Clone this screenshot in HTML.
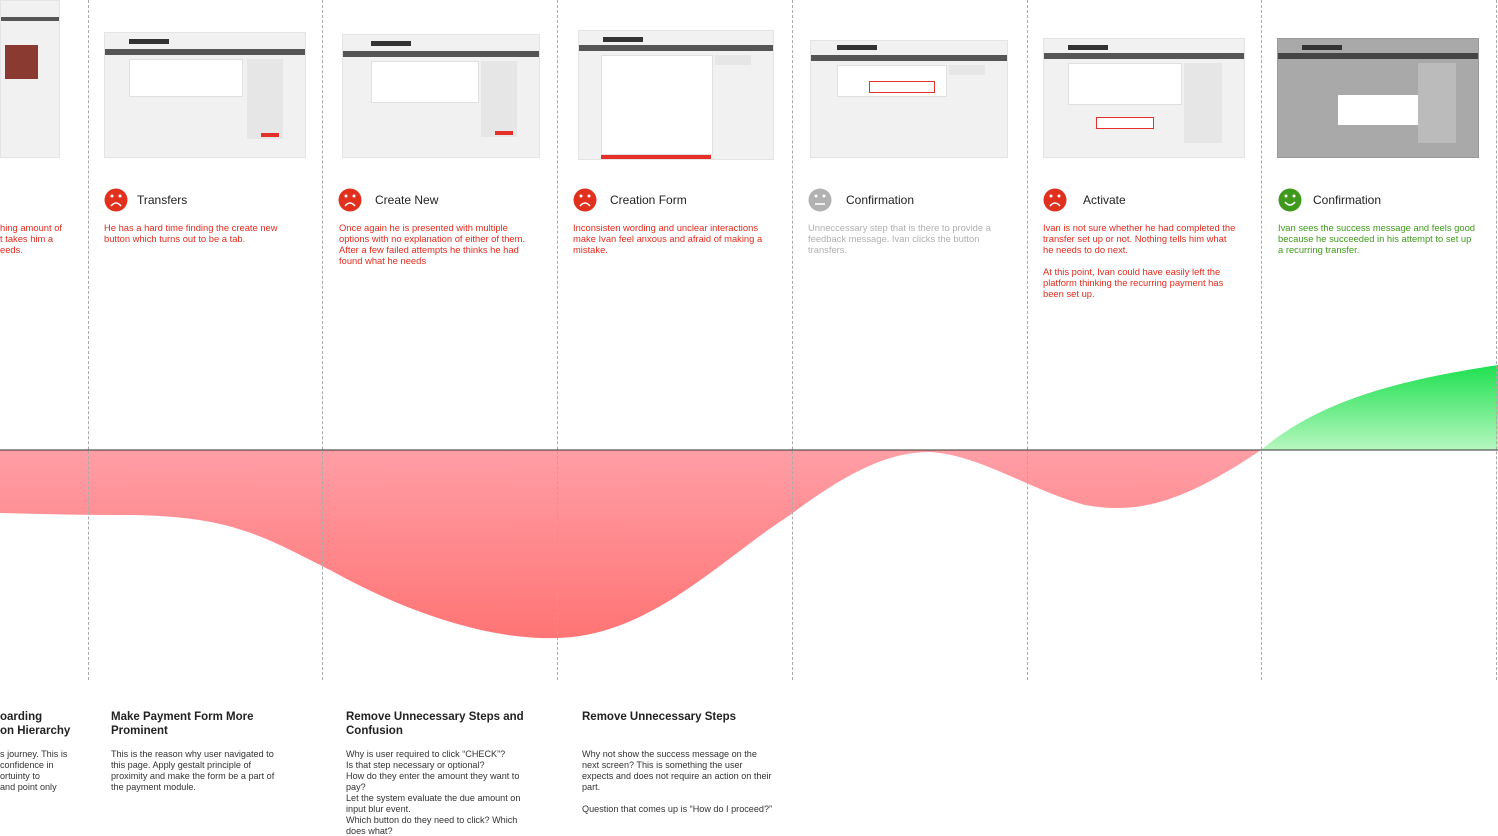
<!DOCTYPE html>
<html><head><meta charset="utf-8"><style>
html,body{margin:0;padding:0;background:#fff;width:1498px;height:836px;overflow:hidden;position:relative;font-family:"Liberation Sans",sans-serif}
.a{position:absolute}
.th{position:absolute;background:#f1f1f1;border:1px solid #e4e4e4;box-sizing:border-box;overflow:hidden}
.th .bar{position:absolute;left:0;right:0;height:6px;background:#555}
.th .logo{position:absolute;width:40px;height:5px;background:#333}
.th .pn{position:absolute;background:#fff;border:1px solid #e0e0e0}
.th .side{position:absolute;background:#e6e6e6}
.th .btn{position:absolute;width:18px;height:4px;background:#e5302a}
.ttl{position:absolute;font-size:12px;color:#222;top:193px}
.ds{position:absolute;font-size:9.4px;line-height:11px;top:222px;white-space:nowrap}
.r{color:#e02b1e}
.h{position:absolute;top:710px;font-size:11.5px;font-weight:bold;color:#222;line-height:14px}
.b{position:absolute;top:749px;font-size:9.1px;line-height:11px;color:#333;white-space:nowrap}
.dv{position:absolute;top:0;height:680px;border-left:1px dashed #aaa}
</style></head><body>
<svg class="a" style="left:0;top:0" width="1498" height="836">
<defs>
<linearGradient id="rg" x1="0" y1="450" x2="0" y2="640" gradientUnits="userSpaceOnUse"><stop offset="0" stop-color="#ff9ea6"/><stop offset="1" stop-color="#ff7474"/></linearGradient>
<linearGradient id="gg" x1="0" y1="450" x2="0" y2="365" gradientUnits="userSpaceOnUse"><stop offset="0" stop-color="#b6f7bf"/><stop offset="1" stop-color="#1ee050"/></linearGradient>
</defs>
<path d="M0,450 L0,513 C40,514 80,515 120,515 C230,515 260,535 330,570 C420,620 500,640 557,638 C650,636 720,560 790,515 C850,470 890,452 930,452 C980,455 1030,490 1085,505 C1135,514 1180,505 1261,450 Z" fill="url(#rg)"/>
<path d="M1261,450 C1320,400 1400,380 1498,365 L1498,450 Z" fill="url(#gg)"/>
<line x1="0" y1="450" x2="1498" y2="450" stroke="#333" stroke-width="1"/>
</svg>
<div class="dv" style="left:88px"></div><div class="dv" style="left:322px"></div><div class="dv" style="left:557px"></div><div class="dv" style="left:792px"></div><div class="dv" style="left:1027px"></div><div class="dv" style="left:1261px"></div><div class="dv" style="left:1496px"></div>

<div class="th" style="left:0;top:0;width:60px;height:158px"><div class="bar" style="top:16px;height:4px"></div><div class="a" style="left:4px;top:44px;width:33px;height:34px;background:#8a3a30"></div></div>
<div class="th" style="left:104px;top:32px;width:202px;height:126px"><div class="logo" style="left:24px;top:6px"></div><div class="bar" style="top:16px"></div><div class="pn" style="left:24px;top:26px;width:112px;height:36px"></div><div class="side" style="left:142px;top:26px;width:36px;height:80px"></div><div class="btn" style="left:156px;top:100px"></div></div>
<div class="th" style="left:342px;top:34px;width:198px;height:124px"><div class="logo" style="left:28px;top:6px"></div><div class="bar" style="top:16px"></div><div class="pn" style="left:28px;top:26px;width:106px;height:40px"></div><div class="side" style="left:138px;top:26px;width:36px;height:76px"></div><div class="btn" style="left:152px;top:96px"></div></div>
<div class="th" style="left:578px;top:30px;width:196px;height:130px"><div class="logo" style="left:24px;top:6px"></div><div class="bar" style="top:14px"></div><div class="pn" style="left:22px;top:24px;width:110px;height:98px"></div><div class="side" style="left:136px;top:24px;width:36px;height:10px"></div><div class="a" style="left:22px;top:124px;width:110px;height:4px;background:#e5302a"></div></div>
<div class="th" style="left:810px;top:40px;width:198px;height:118px"><div class="logo" style="left:26px;top:4px"></div><div class="bar" style="top:14px"></div><div class="pn" style="left:26px;top:24px;width:108px;height:30px"></div><div class="a" style="left:58px;top:40px;width:64px;height:10px;border:1px solid #e5302a;background:#fff"></div><div class="side" style="left:138px;top:24px;width:36px;height:10px"></div></div>
<div class="th" style="left:1043px;top:38px;width:202px;height:120px"><div class="logo" style="left:24px;top:6px"></div><div class="bar" style="top:14px"></div><div class="pn" style="left:24px;top:24px;width:112px;height:40px"></div><div class="a" style="left:52px;top:78px;width:56px;height:10px;border:1px solid #e5302a;background:#fff"></div><div class="side" style="left:140px;top:24px;width:38px;height:80px"></div></div>
<div class="th" style="left:1277px;top:38px;width:202px;height:120px;background:#a9a9a9;border-color:#999"><div class="logo" style="left:24px;top:6px"></div><div class="bar" style="top:14px;background:#444"></div><div class="a" style="left:60px;top:56px;width:82px;height:30px;background:#fff"></div><div class="side" style="left:140px;top:24px;width:38px;height:80px;background:#bbb"></div></div>

<svg class="a" style="left:0;top:0" width="1498" height="240">
<g fill="#e0301e"><circle cx="116" cy="200" r="11.5"/><circle cx="350" cy="200" r="11.5"/><circle cx="585" cy="200" r="11.5"/><circle cx="1055" cy="200" r="11.5"/></g>
<circle cx="820" cy="200" r="11.5" fill="#b2b2b2"/><circle cx="1290" cy="200" r="11.5" fill="#3f9a1c"/>
<g fill="#fff"><circle cx="112" cy="196" r="1.5"/><circle cx="120" cy="196" r="1.5"/><circle cx="346" cy="196" r="1.5"/><circle cx="354" cy="196" r="1.5"/><circle cx="581" cy="196" r="1.5"/><circle cx="589" cy="196" r="1.5"/><circle cx="1051" cy="196" r="1.5"/><circle cx="1059" cy="196" r="1.5"/><circle cx="816" cy="196" r="1.5"/><circle cx="824" cy="196" r="1.5"/><circle cx="1286" cy="196" r="1.5"/><circle cx="1294" cy="196" r="1.5"/></g>
<g stroke="#fff" stroke-width="1.6" fill="none"><path d="M111,206 Q116,200 121,206"/><path d="M345,206 Q350,200 355,206"/><path d="M580,206 Q585,200 590,206"/><path d="M1050,206 Q1055,200 1060,206"/><path d="M815,204 L825,204"/><path d="M1285,202 Q1290,208 1295,202"/></g>
</svg>
<div class="ttl" style="left:137px">Transfers</div>
<div class="ttl" style="left:375px">Create New</div>
<div class="ttl" style="left:610px">Creation Form</div>
<div class="ttl" style="left:846px">Confirmation</div>
<div class="ttl" style="left:1083px">Activate</div>
<div class="ttl" style="left:1313px">Confirmation</div>

<div class="ds r" style="left:0">hing amount of<br>t takes him a<br>eeds.</div>
<div class="ds r" style="left:104px">He has a hard time finding the create new<br>button which turns out to be a tab.</div>
<div class="ds r" style="left:339px">Once again he is presented with multiple<br>options with no explanation of either of them.<br>After a few failed attempts he thinks he had<br>found what he needs</div>
<div class="ds r" style="left:573px">Inconsisten wording and unclear interactions<br>make Ivan feel anxous and afraid of making a<br>mistake.</div>
<div class="ds" style="left:808px;color:#b0b0b0">Unneccessary step that is there to provide a<br>feedback message. Ivan clicks the button<br>transfers.</div>
<div class="ds r" style="left:1043px">Ivan is not sure whether he had completed the<br>transfer set up or not. Nothing tells him what<br>he needs to do next.<br><br>At this point, Ivan could have easily left the<br>platform thinking the recurring payment has<br>been set up.</div>
<div class="ds" style="left:1278px;color:#3f9a1c">Ivan sees the success message and feels good<br>because he succeeded in his attempt to set up<br>a recurring transfer.</div>

<div class="h" style="left:0">oarding<br>on Hierarchy</div>
<div class="b" style="left:0">s journey. This is<br>confidence in<br>ortuinty to<br>and point only</div>
<div class="h" style="left:111px">Make Payment Form More<br>Prominent</div>
<div class="b" style="left:111px">This is the reason why user navigated to<br>this page. Apply gestalt principle of<br>proximity and make the form be a part of<br>the payment module.</div>
<div class="h" style="left:346px">Remove Unnecessary Steps and<br>Confusion</div>
<div class="b" style="left:346px">Why is user required to click “CHECK”?<br>Is that step necessary or optional?<br>How do they enter the amount they want to<br>pay?<br>Let the system evaluate the due amount on<br>input blur event.<br>Which button do they need to click? Which<br>does what?</div>
<div class="h" style="left:582px">Remove Unnecessary Steps</div>
<div class="b" style="left:582px">Why not show the success message on the<br>next screen? This is something the user<br>expects and does not require an action on their<br>part.<br><br>Question that comes up is “How do I proceed?”</div>
</body></html>
